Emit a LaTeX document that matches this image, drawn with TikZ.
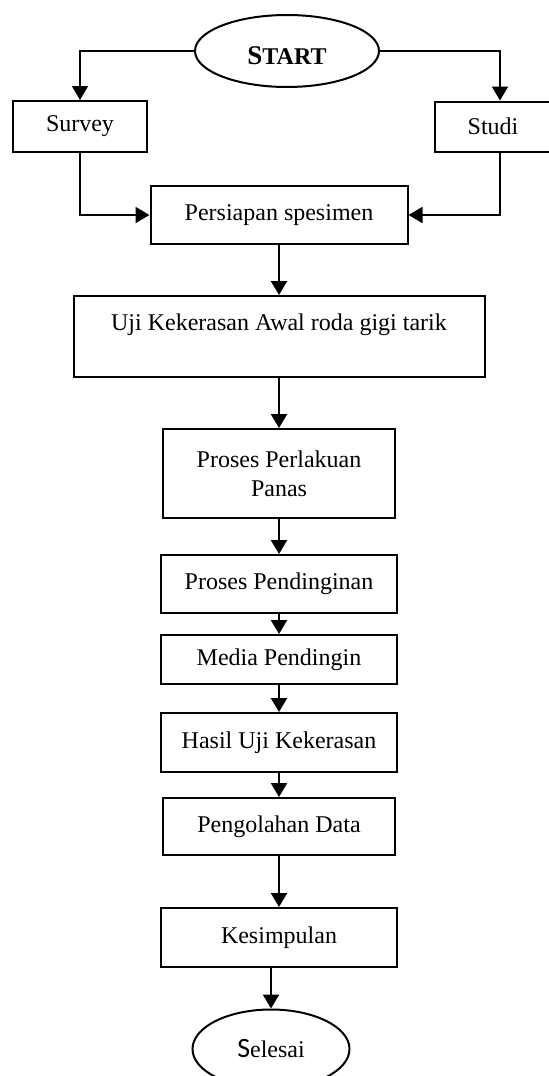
\documentclass[tikz,border=0pt]{standalone}
\usepackage{fontspec}
\setmainfont{Liberation Serif}
\newfontfamily\calibrifont{Carlito}
\usetikzlibrary{arrows.meta,shapes.geometric}

\begin{document}
\begin{tikzpicture}[x=0.5pt, y=-0.5pt,
	kotak/.style={draw, line width=1pt, align=center, inner sep=0pt, font=\fontsize{12}{14.5}\selectfont},
	oval/.style={draw, ellipse, line width=1pt, inner sep=0pt, font=\fontsize{12}{14.5}\selectfont},
	panah/.style={line width=1.2pt, -{Triangle[width=8pt,length=7pt]}},
	cabang/.style={line width=0.9pt, -{Triangle[width=8pt,length=7pt]}}]
			\useasboundingbox (0,0) rectangle (548,1076);
			
			\node[oval, minimum width=92pt, minimum height=36pt, text height=13.5pt] (start) at (287,51) {\textbf{{\fontsize{13.5}{14}\selectfont S}TART}};
			\node[kotak, minimum width=67pt, minimum height=25.5pt] (survey) at (80,126.5) {Survey};
			\node[kotak, minimum width=58pt, minimum height=25pt] (studi) at (493,126.5) {Studi};
			\node[kotak, minimum width=128.5pt, minimum height=29pt] (persiapan) at (279,215) {Persiapan spesimen};
			\node[kotak, minimum width=205.5pt, minimum height=40.5pt] (uji) at (279,336.5) {Uji Kekerasan Awal roda gigi tarik\\ \mbox{}};
			\node[kotak, minimum width=116pt, minimum height=44.5pt] (panas) at (279,473.5) {Proses Perlakuan\\ Panas};
			\node[kotak, minimum width=118pt, minimum height=29pt] (pendinginan) at (279,584) {Proses Pendinginan};
			\node[kotak, minimum width=118pt, minimum height=24.5pt] (media) at (279,659.5) {Media Pendingin};
			\node[kotak, minimum width=118pt, minimum height=29.5pt] (hasil) at (279,742.5) {Hasil Uji Kekerasan};
			\node[kotak, minimum width=116pt, minimum height=28.5pt] (olah) at (279,826.5) {Pengolahan Data};
			\node[kotak, minimum width=118pt, minimum height=29.5pt] (kesimpulan) at (279,937.5) {Kesimpulan};
			\node[oval, minimum width=78.5pt, minimum height=39.5pt] (selesai) at (271,1049) {{\calibrifont\fontsize{14}{14}\selectfont S}elesai};
			
			\draw[cabang] (start.west) -| (survey.north);
			\draw[cabang] (start.east) -| ([xshift=3.5pt]studi.north);
			\draw[cabang] (survey.south) |- (persiapan.west);
			\draw[cabang] ([xshift=3.5pt]studi.south) |- (persiapan.east);
			\draw[panah] (persiapan) -- (uji);
			\draw[panah] (uji) -- (panas);
			\draw[panah] (panas) -- (pendinginan);
			\draw[panah] (pendinginan) -- (media);
			\draw[panah] (media) -- (hasil);
			\draw[panah] (hasil) -- (olah);
			\draw[panah] (olah) -- (kesimpulan);
			\draw[panah] (kesimpulan.south -| selesai.north) -- (selesai.north);
			\end{tikzpicture}
\end{document}
